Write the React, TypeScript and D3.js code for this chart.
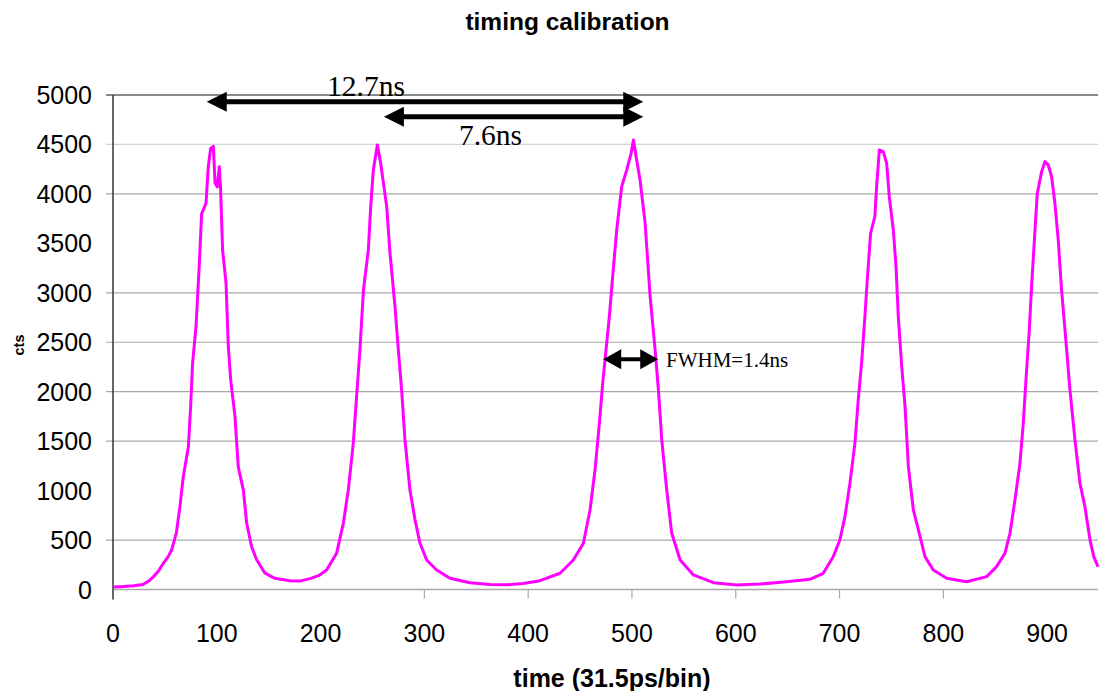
import React from "react";
import * as d3 from "d3";

const WIDTH = 1100;
const HEIGHT = 691;

// [bin, cts], one array per peak region
const peak1 = [
  [0, 25], [10, 30], [20, 38], [29, 50], [35, 90], [39, 130], [44, 190],
  [48.5, 265], [53, 330], [56.5, 400], [61, 570], [64.5, 840], [67.7, 1140],
  [72.6, 1440], [74.8, 1850], [76.7, 2290], [80, 2660], [83.2, 3300],
  [85.4, 3800], [89.6, 3905], [91.8, 4275], [94.1, 4460], [96.7, 4480],
  [98.3, 4110], [100.5, 4070], [102.4, 4275], [103.7, 4040], [105.6, 3430],
  [108.9, 3100], [111.1, 2455], [113.4, 2120], [117.5, 1750], [120.7, 1240],
  [125.6, 1005], [128.8, 670], [133.6, 430], [138.4, 300], [146.4, 165],
  [156, 113], [170.5, 89], [180, 85],
];
const peak2 = [
  [189.8, 110], [198, 140], [205.8, 197], [215.4, 366], [221.9, 669],
  [226.7, 1006], [231.5, 1478], [234.7, 1950], [237.9, 2422], [241.3, 3028],
  [246, 3433], [248.3, 3871], [250.8, 4241], [254.7, 4494], [257.9, 4309],
  [263.7, 3871], [266.9, 3399], [271.7, 2860], [274.9, 2422], [278.1, 2017],
  [281.3, 1512], [286.1, 1006], [291, 703], [295.8, 467], [302.2, 298],
  [311.8, 197], [324.7, 113], [344, 69], [363.2, 50], [380, 48],
];
const peak3 = [
  [395, 60], [411.4, 89], [430.7, 164], [443.5, 298], [453.2, 467],
  [459.6, 804], [464.4, 1208], [468.6, 1680], [471.8, 2085], [475, 2422],
  [478.2, 2758], [481.4, 3163], [485.3, 3635], [490.1, 4073], [494.9, 4241],
  [499.2, 4410], [501.4, 4545], [504, 4376], [507.8, 4140], [512.7, 3703],
  [517.5, 2961], [522.3, 2422], [525.5, 2017], [528.7, 1512], [533.5, 1006],
  [538.3, 568], [546.4, 298], [559.2, 147], [578.5, 69], [600.9, 45],
  [623.3, 55],
];
const peak4 = [
  [649, 79], [671.4, 103], [684.3, 164], [693.9, 332], [700.3, 501],
  [705.2, 737], [710, 1074], [714.8, 1478], [718, 1916], [721.2, 2287],
  [724.4, 2758], [726.7, 3129], [729.9, 3601], [734, 3770], [735.7, 4073],
  [738.3, 4444], [742.1, 4427], [745.4, 4309], [747.9, 3972], [751.8, 3635],
  [754.4, 3264], [756.6, 2758], [759.9, 2253], [763.1, 1849], [766.3, 1242],
  [771.1, 804], [776.8, 568], [782.3, 332], [790.3, 197], [803.2, 113],
  [822.4, 79],
];
const peak5 = [
  [841.7, 130], [851.3, 231], [859.3, 366], [864.2, 568], [869, 905],
  [873.8, 1276], [877, 1680], [879.6, 2118], [882.8, 2624], [885, 3062],
  [888.3, 3635], [890.5, 4006], [894.7, 4225], [897.9, 4326], [901.1, 4292],
  [904.3, 4174], [907.5, 3905], [910.7, 3534], [913.9, 3028], [917.2, 2624],
  [922, 2017], [926.8, 1512], [931.6, 1074], [936.4, 838], [941.3, 501],
  [945, 330], [949, 230],
];

const xTicks = [0, 100, 200, 300, 400, 500, 600, 700, 800, 900];
const xTickMarks = [300, 400, 500, 600, 700, 800];
const yTicks = [0, 500, 1000, 1500, 2000, 2500, 3000, 3500, 4000, 4500, 5000];
const gridValues = [500, 1500, 2000, 2500, 3000, 4000, 4500, 5000];

// annotations, in [bin, cts]
const arrowFrom = [90.3, 261, 472.3];
const arrowTo = [510.9, 510.9, 525.3];
const arrowCts = [4932, 4781, 2328];
const labelText = ["12.7ns", "7.6ns", "FWHM=1.4ns"];
const labelBin = [243.7, 363.7, 532.8];
const labelCts = [4990, 4494, 2253];

function Arrow({ x1, x2, y, w, head }) {
  const h = 10;
  const d =
    `M${x1},${y}L${x1 + head},${y - h}L${x1 + head},${y + h}Z` +
    `M${x2},${y}L${x2 - head},${y - h}L${x2 - head},${y + h}Z`;
  return (
    <g>
      <line x1={x1 + head - 1} x2={x2 - head + 1} y1={y} y2={y} stroke="#000" strokeWidth={w} />
      <path d={d} fill="#000" />
    </g>
  );
}

export default function App() {
  const x = d3.scaleLinear().domain([0, 949]).range([113, 1098]);
  const y = d3.scaleLinear().domain([0, 5000]).range([589.5, 95]);

  const data = [...peak1, ...peak2, ...peak3, ...peak4, ...peak5];
  const line = d3
    .line()
    .x((d) => x(d[0]))
    .y((d) => y(d[1]));

  const left = x(0);
  const right = x.range()[1];

  return (
    <svg
      width={WIDTH}
      height={HEIGHT}
      style={{ position: "absolute", left: 0, top: 0, background: "#fff" }}
    >
      <text x={567.5} y={30} textAnchor="middle" fontFamily="Liberation Sans, Arial" fontWeight="bold" fontSize={24.5}>
        timing calibration
      </text>

      {/* grid */}
      {gridValues.map((v) => (
        <line
          key={v}
          x1={left - 7}
          x2={right}
          y1={y(v)}
          y2={y(v)}
          stroke={v === 5000 ? "#8a8a8a" : v === 4500 ? "#d2d2d2" : "#a8a8a8"}
          strokeWidth={v === 5000 ? 2 : 1.2}
        />
      ))}

      {/* x axis */}
      <line x1={left} x2={right} y1={y(0)} y2={y(0)} stroke="#a8a8a8" strokeWidth={1.5} />
      {xTickMarks.map((t) => (
        <line key={t} x1={x(t)} x2={x(t)} y1={y(0)} y2={y(0) + 9} stroke="#a8a8a8" strokeWidth={1.2} />
      ))}
      {xTicks.map((t) => (
        <text key={t} x={x(t)} y={642} textAnchor="middle" fontFamily="Liberation Sans, Arial" fontSize={25}>
          {t}
        </text>
      ))}
      <text x={612} y={687} textAnchor="middle" fontFamily="Liberation Sans, Arial" fontWeight="bold" fontSize={25}>
        time (31.5ps/bin)
      </text>

      {/* y axis */}
      <line x1={left} x2={left} y1={y(5000)} y2={y(0) + 10} stroke="#333" strokeWidth={1.5} />
      {yTicks.map((t) => (
        <text key={t} x={92} y={y(t) + 9} textAnchor="end" fontFamily="Liberation Sans, Arial" fontSize={25}>
          {t}
        </text>
      ))}
      <text
        transform="translate(24,345) rotate(-90)"
        textAnchor="middle"
        fontFamily="Liberation Sans, Arial"
        fontWeight="bold"
        fontSize={14.5}
      >
        cts
      </text>

      {/* trace */}
      <path d={line(data)} fill="none" stroke="#ff00ff" strokeWidth={3} strokeLinejoin="round" />

      {/* annotations */}
      {arrowFrom.map((a, i) => (
        <Arrow
          key={i}
          x1={x(a)}
          x2={x(arrowTo[i])}
          y={y(arrowCts[i])}
          w={i < 2 ? 5 : 4}
          head={i < 2 ? 20 : 18}
        />
      ))}
      {labelText.map((t, i) => (
        <text
          key={t}
          x={x(labelBin[i])}
          y={y(labelCts[i])}
          textAnchor={i < 2 ? "middle" : "start"}
          fontFamily="Liberation Serif, Times New Roman"
          fontSize={i < 2 ? 29.5 : 21}
        >
          {t}
        </text>
      ))}
    </svg>
  );
}
